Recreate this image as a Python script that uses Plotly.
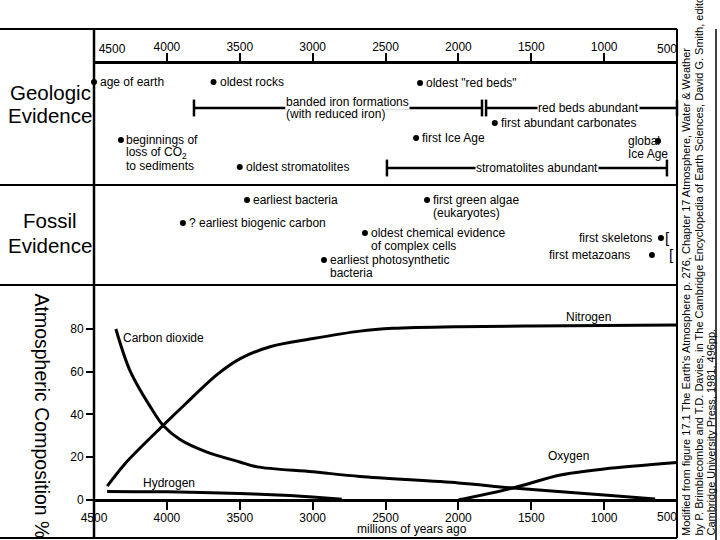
import plotly.graph_objects as go

FONT = "Liberation Sans, Arial, Helvetica, sans-serif"

# ---------------- data ----------------
age_ticks = [4500, 4000, 3500, 3000, 2500, 2000, 1500, 1000, 500]
comp_ticks = [0, 20, 40, 60, 80]

co2_age = [4350, 4250, 4080, 4027, 3910, 3725, 3500, 3380, 3000, 2675, 2000, 1626, 1000, 650]
co2_pct = [80, 60, 40, 35, 28.3, 22.4, 17.8, 15.5, 13.2, 11, 8, 5.6, 2.3, 0.5]

n2_age = [4409, 4287, 4024, 3864, 3658, 3500, 3292, 3006, 2675, 2450, 2000, 1500, 500]
n2_pct = [6.5, 17, 35, 45.5, 58.5, 66, 71.7, 75.4, 79, 80.3, 81.1, 81.4, 81.9]

h2_age = [4410, 4000, 3500, 3200, 3000, 2800]
h2_pct = [4, 3.8, 3, 2.2, 1.4, 0.4]

o2_age = [2000, 1626, 1300, 1000, 500]
o2_pct = [0, 5.6, 11.7, 14.5, 17.5]

gas_names = ["Carbon dioxide", "Nitrogen", "Hydrogen", "Oxygen"]

geo_point_names = ["age of earth", "oldest rocks", 'oldest "red beds"',
                   "first abundant carbonates", "first Ice Age",
                   "beginnings of\nloss of CO<sub>2</sub>\nto sediments",
                   "global\nIce Age", "oldest stromatolites"]
geo_point_ages = [4500, 3680, 2263, 1750, 2290, 4315, 630, 3500]

geo_span_names = ["banded iron formations\n(with reduced iron)", "red beds abundant",
                  "stromatolites abundant"]
geo_span_start = [3814, 1810, 2490]
geo_span_end = [1838, 500, 569]

fossil_names = ["earliest bacteria", "? earliest biogenic carbon",
                "oldest chemical evidence\nof complex cells",
                "earliest photosynthetic\nbacteria",
                "first green algae\n(eukaryotes)", "first skeletons", "first metazoans"]
fossil_ages = [3450, 3890, 2641, 2922, 2215, 610, 672]

panel_titles = ["Geologic\nEvidence", "Fossil\nEvidence"]
y_title = "Atmospheric Composition %"
x_title = "millions of years ago"
citation = ["Modified from figure 17.1 The Earth's Atmosphere p. 276, Chapter 17 Atmosphere, Water & Weather",
            "by P. Brimblecombe and T.D. Davies, in The Cambridge Encyclopedia of Earth Sciences, David G. Smith, editor",
            "Cambridge University Press, 1981, 496pp."]

# ---------------- layout positions (not data) ----------------
W, H = 720, 540
def px(x): return x / W
def py(y): return 1 - y / H

X0, X1 = 94, 677
geo_point_rows = [18, 18, 19, 59, 74, 76, 77, 103]
geo_point_text = [("left", 5), ("left", 5), ("left", 5), ("left", 5), ("left", 5),
                  ("left", 4), ("left", -31), ("left", 5)]
geo_span_rows = [44, 44, 104]
geo_span_label_age = [3190, 1461, 1886]
fossil_rows = [15, 38, 48, 75, 15, 53, 70]
fossil_text = [("left", 5), ("left", 5), ("left", 5), ("left", 5), ("left", 5),
               ("right", -8), ("right", -21)]
bracket_shift = {5: 3, 6: 16}
gas_label_age = [4310, 1270, 4170, 1390]
gas_label_pct = [76, 85.5, 8, 20.6]

fig = go.Figure()
black = "black"

# atmospheric curves
for ages, vals in [(co2_age, co2_pct), (n2_age, n2_pct), (h2_age, h2_pct), (o2_age, o2_pct)]:
    fig.add_trace(go.Scatter(x=ages, y=vals, mode="lines",
                             line=dict(color=black, width=3, shape="spline", smoothing=0.9),
                             xaxis="x", yaxis="y", cliponaxis=False, hoverinfo="skip"))

# geologic spans
for s, e, r in zip(geo_span_start, geo_span_end, geo_span_rows):
    fig.add_trace(go.Scatter(x=[s, e], y=[r, r], mode="lines+markers",
                             line=dict(color=black, width=2.5),
                             marker=dict(symbol="line-ns", size=12, line=dict(color=black, width=2.5)),
                             xaxis="x2", yaxis="y2", cliponaxis=False, hoverinfo="skip"))
# geologic points
fig.add_trace(go.Scatter(x=geo_point_ages, y=geo_point_rows, mode="markers",
                         marker=dict(color=black, size=6), xaxis="x2", yaxis="y2",
                         cliponaxis=False, hoverinfo="skip"))
# fossil points
fig.add_trace(go.Scatter(x=fossil_ages, y=fossil_rows, mode="markers",
                         marker=dict(color=black, size=6), xaxis="x3", yaxis="y3",
                         cliponaxis=False, hoverinfo="skip"))
# dummy traces for edge-label axes
for xa, ya in [("x4", "y2"), ("x5", "y2"), ("x6", "y")]:
    fig.add_trace(go.Scatter(x=[], y=[], xaxis=xa, yaxis=ya, hoverinfo="skip"))

annotations = []

def add_text(text, x, y, xref, yref, xanchor="left", xshift=0, yshift=0, size=12,
             bg="rgba(0,0,0,0)", dy=13, textangle=0, yanchor="middle"):
    for i, line in enumerate(text.split("\n")):
        annotations.append(dict(text=line, x=x, y=y, xref=xref, yref=yref, xanchor=xanchor,
                                yanchor=yanchor, xshift=xshift, yshift=yshift - dy * i,
                                showarrow=False, textangle=textangle, bgcolor=bg, borderpad=0,
                                font=dict(family=FONT, size=size, color=black)))

for name, a, r, (anc, sh) in zip(geo_point_names, geo_point_ages, geo_point_rows, geo_point_text):
    add_text(name, a, r, "x2", "y2", anc, sh)
for name, a, r in zip(geo_span_names, geo_span_label_age, geo_span_rows):
    ys = 6 if "\n" in name else 0
    add_text(name, a, r, "x2", "y2", "left", 0, yshift=ys, bg="white", dy=12)
for i, (name, a, r, (anc, sh)) in enumerate(zip(fossil_names, fossil_ages, fossil_rows, fossil_text)):
    add_text(name, a, r, "x3", "y3", anc, sh)
    if i in bracket_shift:
        add_text("[", a, r, "x3", "y3", "left", bracket_shift[i], size=15)
for name, a, v in zip(gas_names, gas_label_age, gas_label_pct):
    add_text(name, a, v, "x", "y", "left", 0)

# panel titles
add_text(panel_titles[0], px(50), py(92), "paper", "paper", "center", size=20.5, dy=23)
add_text(panel_titles[1], px(50), py(220), "paper", "paper", "center", size=20.5, dy=25)
# axis titles
annotations.append(dict(text=y_title, x=px(42), y=py(291), xref="paper", yref="paper",
                        xanchor="center", yanchor="top", textangle=90, showarrow=False,
                        font=dict(family=FONT, size=19.5, color=black)))
add_text(x_title, px(412), py(529), "paper", "paper", "center", size=12)
# citation (rotated)
for i, line in enumerate(citation):
    annotations.append(dict(text=line, x=px(686 + 12 * i), y=py(538), xref="paper", yref="paper",
                            xanchor="center", yanchor="bottom", textangle=-90, showarrow=False,
                            font=dict(family=FONT, size=11, color=black)))

# frame lines
shapes = []
def seg(x0, y0, x1, y1, w=2):
    shapes.append(dict(type="line", xref="paper", yref="paper", x0=px(x0), y0=py(y0),
                       x1=px(x1), y1=py(y1), line=dict(color=black, width=w)))
seg(0, 29, 677, 29)
seg(94, 29, 94, 538, 2.5)
seg(677, 29, 677, 538)
seg(0, 185, 677, 185)
seg(0, 285, 677, 285)
seg(0, 538, 677, 538)
seg(716, 29, 716, 540, 1.5)

tickfont = dict(family=FONT, size=12, color=black)
dom = [px(X0), px(X1)]
common_x = dict(range=[4500, 500], showgrid=False, zeroline=False, tickfont=tickfont,
                automargin=False)
tick_style = dict(ticks="outside", ticklen=8, tickwidth=2, tickcolor=black)
hidden_tick = dict(ticks="outside", ticklen=8, tickwidth=2, tickcolor="rgba(0,0,0,0)")
top_lab = dict(ticklabelstandoff=-3)
bot_lab = dict(ticklabelstandoff=-2)

fig.update_layout(
    width=W, height=H, margin=dict(l=0, r=0, t=0, b=0, autoexpand=False),
    paper_bgcolor="white", plot_bgcolor="rgba(0,0,0,0)", showlegend=False,
    font=dict(family=FONT, color=black),
    xaxis=dict(domain=dom, anchor="free", position=py(500), tickvals=age_ticks[:-1],
               showline=True, linewidth=2.5, linecolor=black, **tick_style, **bot_lab, **common_x),
    xaxis6=dict(overlaying="x", anchor="free", position=py(500), tickvals=age_ticks[-1:],
                ticklabelshift=10, showline=False, **hidden_tick, **bot_lab, **common_x),
    yaxis=dict(domain=[py(538), py(285)], range=[-17.78, 100.58], anchor="x",
               tickvals=comp_ticks, ticks="outside", ticklen=7, tickwidth=2, tickcolor=black,
               showline=False, showgrid=False, zeroline=False, tickfont=tickfont,
               automargin=False),
    xaxis2=dict(domain=dom, anchor="y2", side="top", tickvals=age_ticks[1:-1],
                showline=True, linewidth=2.5, linecolor=black, **tick_style, **top_lab, **common_x),
    xaxis4=dict(overlaying="x2", anchor="y2", side="top", tickvals=age_ticks[:1],
                ticklabelshift=-18, showline=False, **hidden_tick, **top_lab, **common_x),
    xaxis5=dict(overlaying="x2", anchor="y2", side="top", tickvals=age_ticks[-1:],
                ticklabelshift=10, showline=False, **hidden_tick, **top_lab, **common_x),
    yaxis2=dict(domain=[py(185), py(64)], range=[121, 0], visible=False, automargin=False),
    xaxis3=dict(domain=dom, anchor="y3", visible=False, range=[4500, 500], automargin=False),
    yaxis3=dict(domain=[py(285), py(185)], range=[100, 0], visible=False, automargin=False),
    annotations=annotations, shapes=shapes,
)

fig.write_html("out.html", config={"displayModeBar": False},
               post_script="document.body.style.margin='0px';")
